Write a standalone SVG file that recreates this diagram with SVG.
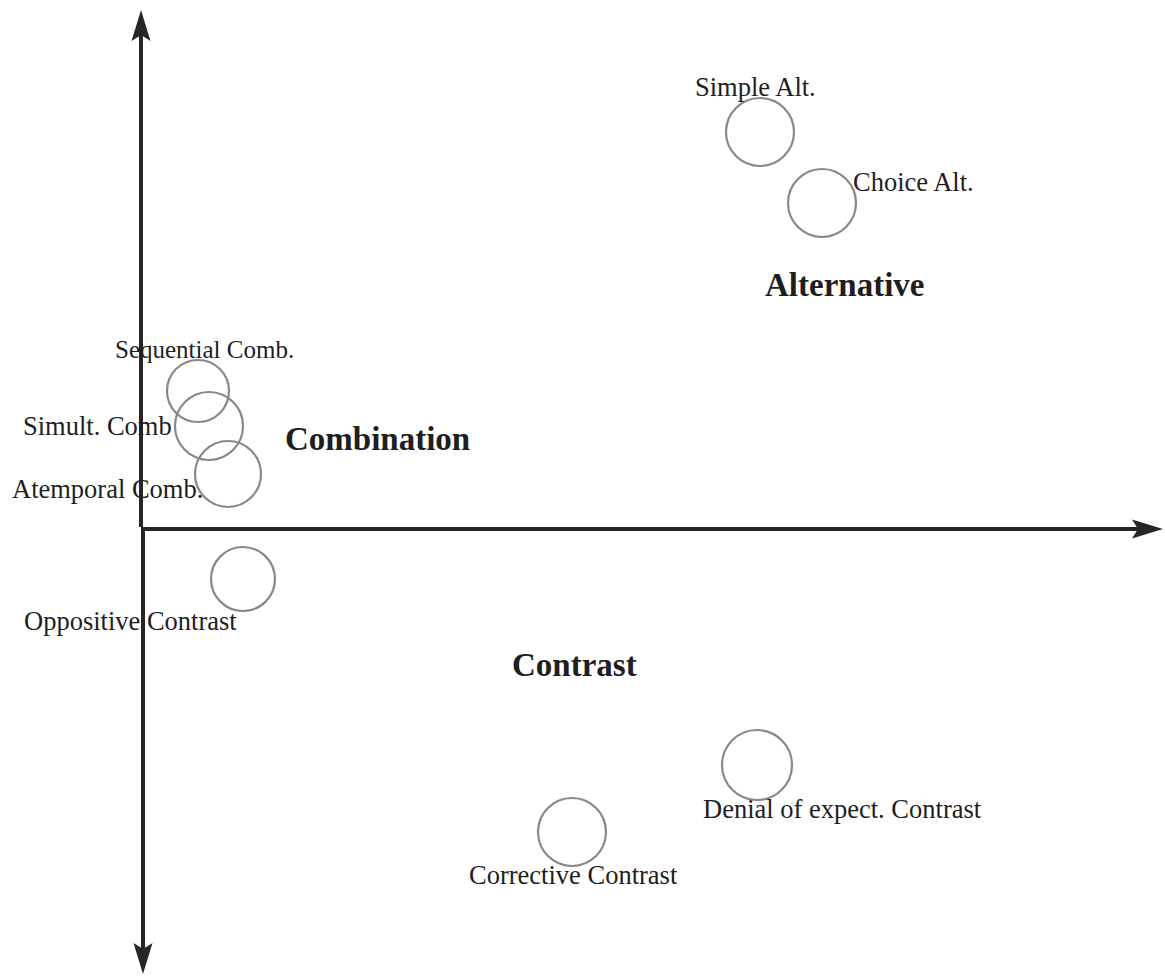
<svg xmlns="http://www.w3.org/2000/svg" width="1165" height="976" viewBox="0 0 1165 976">
  <defs>
    <style>
      .axis { stroke: #262626; stroke-width: 4; fill: none; }
      .node circle { fill: none; stroke: #888888; stroke-width: 2.2; }
      .lbl { font-family: "Liberation Serif", "Times New Roman", serif; font-size: 26.5px; fill: #1e1e1e; }
      .lbl.small { font-size: 25px; }
      .cat { font-family: "Liberation Serif", "Times New Roman", serif; font-size: 33px; font-weight: bold; fill: #1e1e1e; }
    </style>
    <!-- barbed arrowhead; reference point sits at the notch so the shaft ends inside the head -->
    <marker id="head" markerUnits="userSpaceOnUse" markerWidth="32" markerHeight="20" viewBox="0 -10 32 20" refX="6" refY="0" orient="auto" overflow="visible">
      <path d="M0,-9.5 L31,0 L0,9.5 L6,0 Z" fill="#262626"/>
    </marker>
  </defs>

  <rect width="1165" height="976" fill="#ffffff"/>

  <!-- axes -->
  <g id="connectors">
    <line class="axis" x1="141" y1="527" x2="141" y2="35" marker-end="url(#head)"/>
    <line class="axis" x1="143" y1="531" x2="143" y2="949" marker-end="url(#head)"/>
    <line class="axis" x1="141" y1="529" x2="1138" y2="529" marker-end="url(#head)"/>
  </g>

  <!-- category labels -->
  <g id="cat-alternative"><text class="cat" x="765" y="296">Alternative</text></g>
  <g id="cat-combination"><text class="cat" x="285" y="450">Combination</text></g>
  <g id="cat-contrast"><text class="cat" x="512" y="676">Contrast</text></g>

  <!-- alternative relations -->
  <g id="simple-alt" class="node">
    <circle cx="760" cy="132" r="34"/>
    <text class="lbl" x="695" y="96">Simple Alt.</text>
  </g>
  <g id="choice-alt" class="node">
    <circle cx="822" cy="203" r="34"/>
    <text class="lbl" x="853" y="191">Choice Alt.</text>
  </g>

  <!-- combination relations -->
  <g id="sequential-comb" class="node">
    <circle cx="198" cy="391" r="31"/>
    <text class="lbl small" x="115" y="358">Sequential Comb.</text>
  </g>
  <g id="simult-comb" class="node">
    <circle cx="209" cy="426" r="34"/>
    <text class="lbl" x="23" y="435">Simult. Comb</text>
  </g>
  <g id="atemporal-comb" class="node">
    <circle cx="228" cy="474" r="33"/>
    <text class="lbl" x="12" y="498">Atemporal Comb.</text>
  </g>

  <!-- contrast relations -->
  <g id="oppositive-contrast" class="node">
    <circle cx="243" cy="579" r="32"/>
    <text class="lbl" x="24" y="630">Oppositive Contrast</text>
  </g>
  <g id="denial-contrast" class="node">
    <circle cx="757" cy="765" r="35"/>
    <text class="lbl" x="703" y="818">Denial of expect. Contrast</text>
  </g>
  <g id="corrective-contrast" class="node">
    <circle cx="572" cy="832" r="34"/>
    <text class="lbl" x="469" y="884">Corrective Contrast</text>
  </g>
</svg>
